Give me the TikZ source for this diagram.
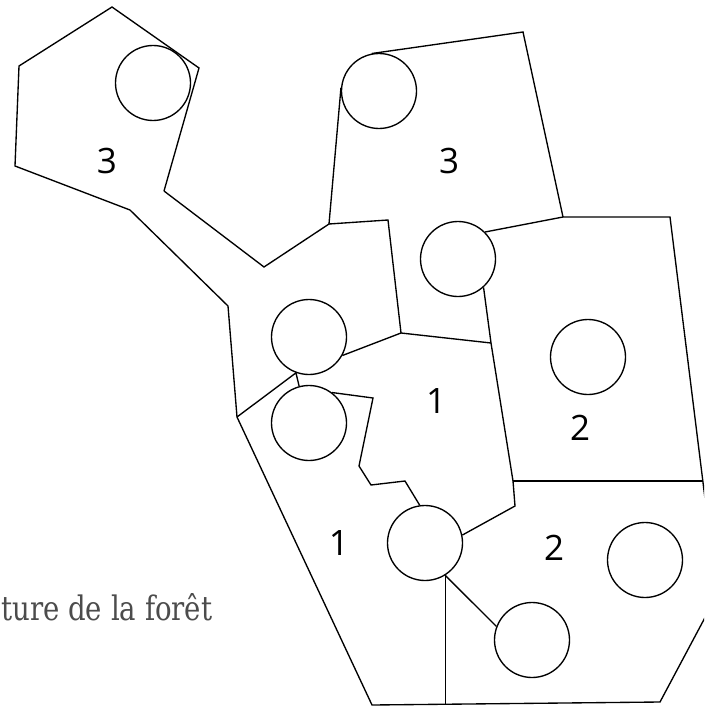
\documentclass[tikz,border=0pt]{standalone}
\usepackage{fontspec}
\usepackage{graphicx}
\setmainfont{Open Sans}
\newfontfamily\capfont{DejaVu Serif}
\begin{document}
\begin{tikzpicture}[x=1pt,y=-1pt, line width=1.35pt, line join=miter,
  circ/.style={circle, draw, minimum size=75pt, inner sep=0pt, line width=1.35pt},
  lab/.style={font=\fontsize{35}{40}\selectfont, inner sep=0pt, anchor=center}]
\useasboundingbox (0,0) rectangle (704,706);
\clip (0,0) rectangle (704,706);
% points
\coordinate (A1) at (112,7);
\coordinate (A2) at (199,68);
\coordinate (A3) at (164,191);
\coordinate (A4) at (264,267);
\coordinate (A5) at (329,224);
\coordinate (L1) at (19,66);
\coordinate (L2) at (15,166);
\coordinate (L3) at (130,210);
\coordinate (L4) at (228,306);
\coordinate (L5) at (237,417);
\coordinate (M1) at (388,220);
\coordinate (M2) at (401,333);
\coordinate (B1) at (523,32);
\coordinate (B2) at (563,217);
\coordinate (B3) at (670,217);
\coordinate (P4) at (717,595);
\coordinate (P3) at (660,702);
\coordinate (P1) at (372,705);
\coordinate (E) at (703,481);
\coordinate (D1) at (491,343);
\coordinate (D2) at (513,481);
\coordinate (D3) at (515,506);
\coordinate (Z1) at (373,398);
\coordinate (Z2) at (359,466);
\coordinate (Z3) at (371,485);
\coordinate (Z4) at (405,481);
% circles
\node[circ] (c1) at (153,83) {};
\node[circ] (c2) at (379,91) {};
\node[circ] (c3) at (458,259) {};
\node[circ] (cM) at (309,337) {};
\node[circ] (cL) at (309,423) {};
\node[circ] (cC) at (425,543) {};
\node[circ] (cB) at (532,640) {};
\node[circ] (cR2) at (588,357) {};
\node[circ] (cR) at (645,560) {};
% boundaries
\draw (A3) -- (A2) -- (A1) -- (L1) -- (L2) -- (L3) -- (L4) -- (L5) -- (P1) -- (P3) -- (P4) -- (B3) -- (B2) -- (B1) -- (c2.101);
\draw (A3) -- (A4) -- (A5) -- (c2.175);
\draw (A5) -- (M1) -- (M2) -- (D1);
\draw (M2) -- (cM.331);
\draw (L5) -- (cM.250) -- (cL.105);
\draw (B2) -- (c3.45);
\draw (c3.312) -- (D1) -- (D2) -- (D3) -- (cC.12);
\draw (D2) -- (E);
\draw (cL.53) -- (Z1) -- (Z2) -- (Z3) -- (Z4) -- (cC.98);
\draw (cC.302) -- (cC.302 |- P1);
\draw (cC.302) -- (cB.159);
% labels
\node[lab] (t1) at (107,161) {3};
\node[lab] (t2) at (449,161) {3};
\node[lab] (t3) at (436,401) {1};
\node[lab] (t4) at (580,428) {2};
\node[lab] (t5) at (554,548) {2};
\node[lab] (t6) at (339,543) {1};
\node[anchor=base east, inner sep=0pt, text=black!70] (cap) at (213,620) {\resizebox{211pt}{27pt}{\capfont\fontsize{30}{36}\selectfont ture de la forêt}};
\end{tikzpicture}
\end{document}
